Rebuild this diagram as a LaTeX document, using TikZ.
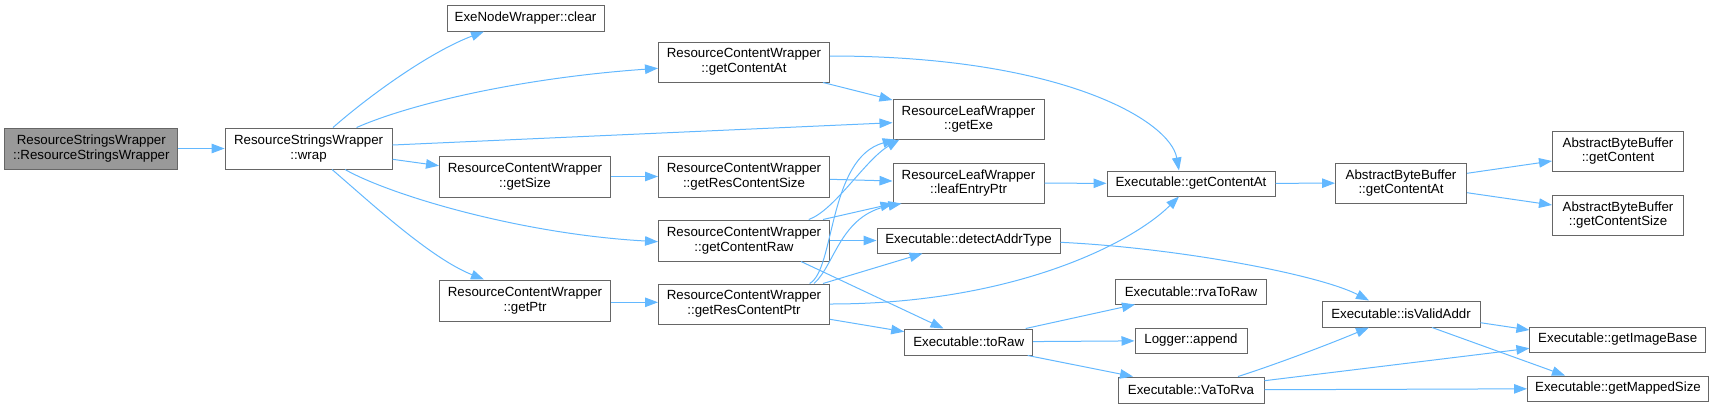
\documentclass[tikz,border=0pt]{standalone}
\usepackage{fontspec}
\setmainfont{Liberation Sans}
\usetikzlibrary{arrows.meta}
\definecolor{edgeblue}{HTML}{63B8FF}
\definecolor{boxgray}{HTML}{666666}
\definecolor{rootfill}{HTML}{999999}
\begin{document}
\begin{tikzpicture}[x=1pt,y=-1pt,
  fn/.style={draw=boxgray,line width=1pt,fill=white,rectangle,inner sep=0pt,align=center,
    font=\fontsize{13.3}{14.8}\selectfont},
  e/.style={draw=edgeblue,line width=1pt,-{Triangle[length=13pt,width=9.5pt]}}]
\useasboundingbox (0,0) rectangle (1713,408);
% nodes
\node[fn,fill=rootfill,minimum width=173pt,minimum height=41pt] (root) at (91.3,148.5) {ResourceStringsWrapper\\::ResourceStringsWrapper};
\node[fn,minimum width=167pt,minimum height=41pt] (wrap) at (308.6,148.5) {ResourceStringsWrapper\\::wrap};
\node[fn,minimum width=157pt,minimum height=26pt] (clear) at (525.5,18) {ExeNodeWrapper::clear};
\node[fn,minimum width=171pt,minimum height=40pt] (rcwGCA) at (744,62) {ResourceContentWrapper\\::getContentAt};
\node[fn,minimum width=171pt,minimum height=41pt] (getSize) at (525,176.5) {ResourceContentWrapper\\::getSize};
\node[fn,minimum width=171pt,minimum height=41pt] (getPtr) at (525,300.5) {ResourceContentWrapper\\::getPtr};
\node[fn,minimum width=171pt,minimum height=41pt] (gRCS) at (744,176.5) {ResourceContentWrapper\\::getResContentSize};
\node[fn,minimum width=171pt,minimum height=41pt] (gCR) at (744,240.5) {ResourceContentWrapper\\::getContentRaw};
\node[fn,minimum width=171pt,minimum height=40pt] (gRCP) at (744,304) {ResourceContentWrapper\\::getResContentPtr};
\node[fn,minimum width=151pt,minimum height=40pt] (getExe) at (968.5,119) {ResourceLeafWrapper\\::getExe};
\node[fn,minimum width=151pt,minimum height=40pt] (leaf) at (968.5,183) {ResourceLeafWrapper\\::leafEntryPtr};
\node[fn,minimum width=183pt,minimum height=25pt] (detect) at (968.5,240.5) {Executable::detectAddrType};
\node[fn,minimum width=128pt,minimum height=26pt] (toRaw) at (968.7,342) {Executable::toRaw};
\node[fn,minimum width=168pt,minimum height=25pt] (exeGCA) at (1191,183.5) {Executable::getContentAt};
\node[fn,minimum width=151pt,minimum height=25pt] (rva) at (1191,291.5) {Executable::rvaToRaw};
\node[fn,minimum width=112pt,minimum height=25pt] (logger) at (1191,340.5) {Logger::append};
\node[fn,minimum width=146pt,minimum height=26pt] (vatorva) at (1191,390) {Executable::VaToRva};
\node[fn,minimum width=131pt,minimum height=40pt] (abbGCA) at (1401,183) {AbstractByteBuffer\\::getContentAt};
\node[fn,minimum width=131pt,minimum height=40pt] (abbGC) at (1618,151) {AbstractByteBuffer\\::getContent};
\node[fn,minimum width=131pt,minimum height=40pt] (abbGCS) at (1618,215) {AbstractByteBuffer\\::getContentSize};
\node[fn,minimum width=158pt,minimum height=26pt] (isValid) at (1401,314) {Executable::isValidAddr};
\node[fn,minimum width=175.6pt,minimum height=25pt] (imgBase) at (1617.7,339.5) {Executable::getImageBase};
\node[fn,minimum width=181pt,minimum height=25pt] (mapped) at (1618,388.5) {Executable::getMappedSize};
% edges
\draw[e] (root) -- (wrap);
\draw[e] ([xshift=24.4pt]wrap.north) .. controls (370,95) and (430,52) .. ([xshift=-41.5pt]clear.south);
\draw[e] ([xshift=48pt]wrap.north) .. controls (410,104) and (520,78) .. ([yshift=-6.3pt]rcwGCA.west);
\draw[e] ([yshift=3.5pt]wrap.east) -- ([yshift=-3.7pt]getExe.west);
\draw[e] ([yshift=-10.8pt]wrap.east) -- ([yshift=10.8pt]getSize.west);
\draw[e] ([xshift=36.4pt]wrap.south) .. controls (390,195) and (520,234) .. ([yshift=-1.2pt]gCR.west);
\draw[e] ([xshift=23.4pt]wrap.south) .. controls (370,202) and (430,258) .. ([xshift=-41pt]getPtr.north);
\draw[e] ([xshift=79pt]rcwGCA.south) -- ([yshift=19pt]getExe.west);
\draw[e] ([yshift=6pt]rcwGCA.east) .. controls (1060,56) and (1170,120) .. ([xshift=-12pt]exeGCA.north);
\draw[e] (getSize) -- (gRCS);
\draw[e] ([yshift=-2.8pt]gRCS.east) -- ([yshift=2pt]leaf.west);
\draw[e] ([xshift=64.8pt]gCR.north) .. controls (835,210) and (865,160) .. ([xshift=-69pt]getExe.south);
\draw[e] ([xshift=79pt]gCR.north) -- ([xshift=-75pt]leaf.south);
\draw[e] (gCR) -- (detect);
\draw[e] ([xshift=57pt]gCR.south) -- ([xshift=-25.2pt]toRaw.north);
\draw[e] ([yshift=-1.8pt]getPtr.east) -- ([yshift=1.7pt]gRCP.west);
\draw[e] ([xshift=65.6pt]gRCP.north) .. controls (835,270) and (828,158) .. ([xshift=-72.8pt]getExe.south);
\draw[e] ([xshift=70pt]gRCP.north) .. controls (835,265) and (840,215) .. ([xshift=-67pt]leaf.south);
\draw[e] ([xshift=79pt]gRCP.north) -- ([xshift=-46pt]detect.south);
\draw[e] (gRCP.east) .. controls (1010,304) and (1130,245) .. ([xshift=-12pt]exeGCA.south);
\draw[e] ([yshift=-15.3pt]gRCP.east) -- ([yshift=10.3pt]toRaw.west);
\draw[e] (leaf) -- (exeGCA);
\draw[e] ([yshift=-1.8pt]detect.east) .. controls (1180,248) and (1320,275) .. ([xshift=-32pt]isValid.north);
\draw[e] (exeGCA) -- (abbGCA);
\draw[e] ([xshift=57pt]toRaw.north) -- ([xshift=-56pt]rva.south);
\draw[e] (toRaw) -- (logger);
\draw[e] ([xshift=59pt]toRaw.south) -- ([xshift=-58pt]vatorva.north);
\draw[e] ([yshift=9.7pt]abbGCA.east) -- ([yshift=-10pt]abbGC.west);
\draw[e] ([yshift=-9.7pt]abbGCA.east) -- ([yshift=10pt]abbGCS.west);
\draw[e] ([yshift=-8.7pt]isValid.east) -- ([yshift=9.5pt]imgBase.west);
\draw[e] ([xshift=31pt]isValid.south) -- ([xshift=-53pt]mapped.north);
\draw[e] ([xshift=47pt]vatorva.north) .. controls (1265,368) and (1320,348) .. ([xshift=-32pt]isValid.south);
\draw[e] ([yshift=9.3pt]vatorva.east) -- ([yshift=-8.8pt]imgBase.west);
\draw[e] (vatorva) -- (mapped);
\end{tikzpicture}
\end{document}
